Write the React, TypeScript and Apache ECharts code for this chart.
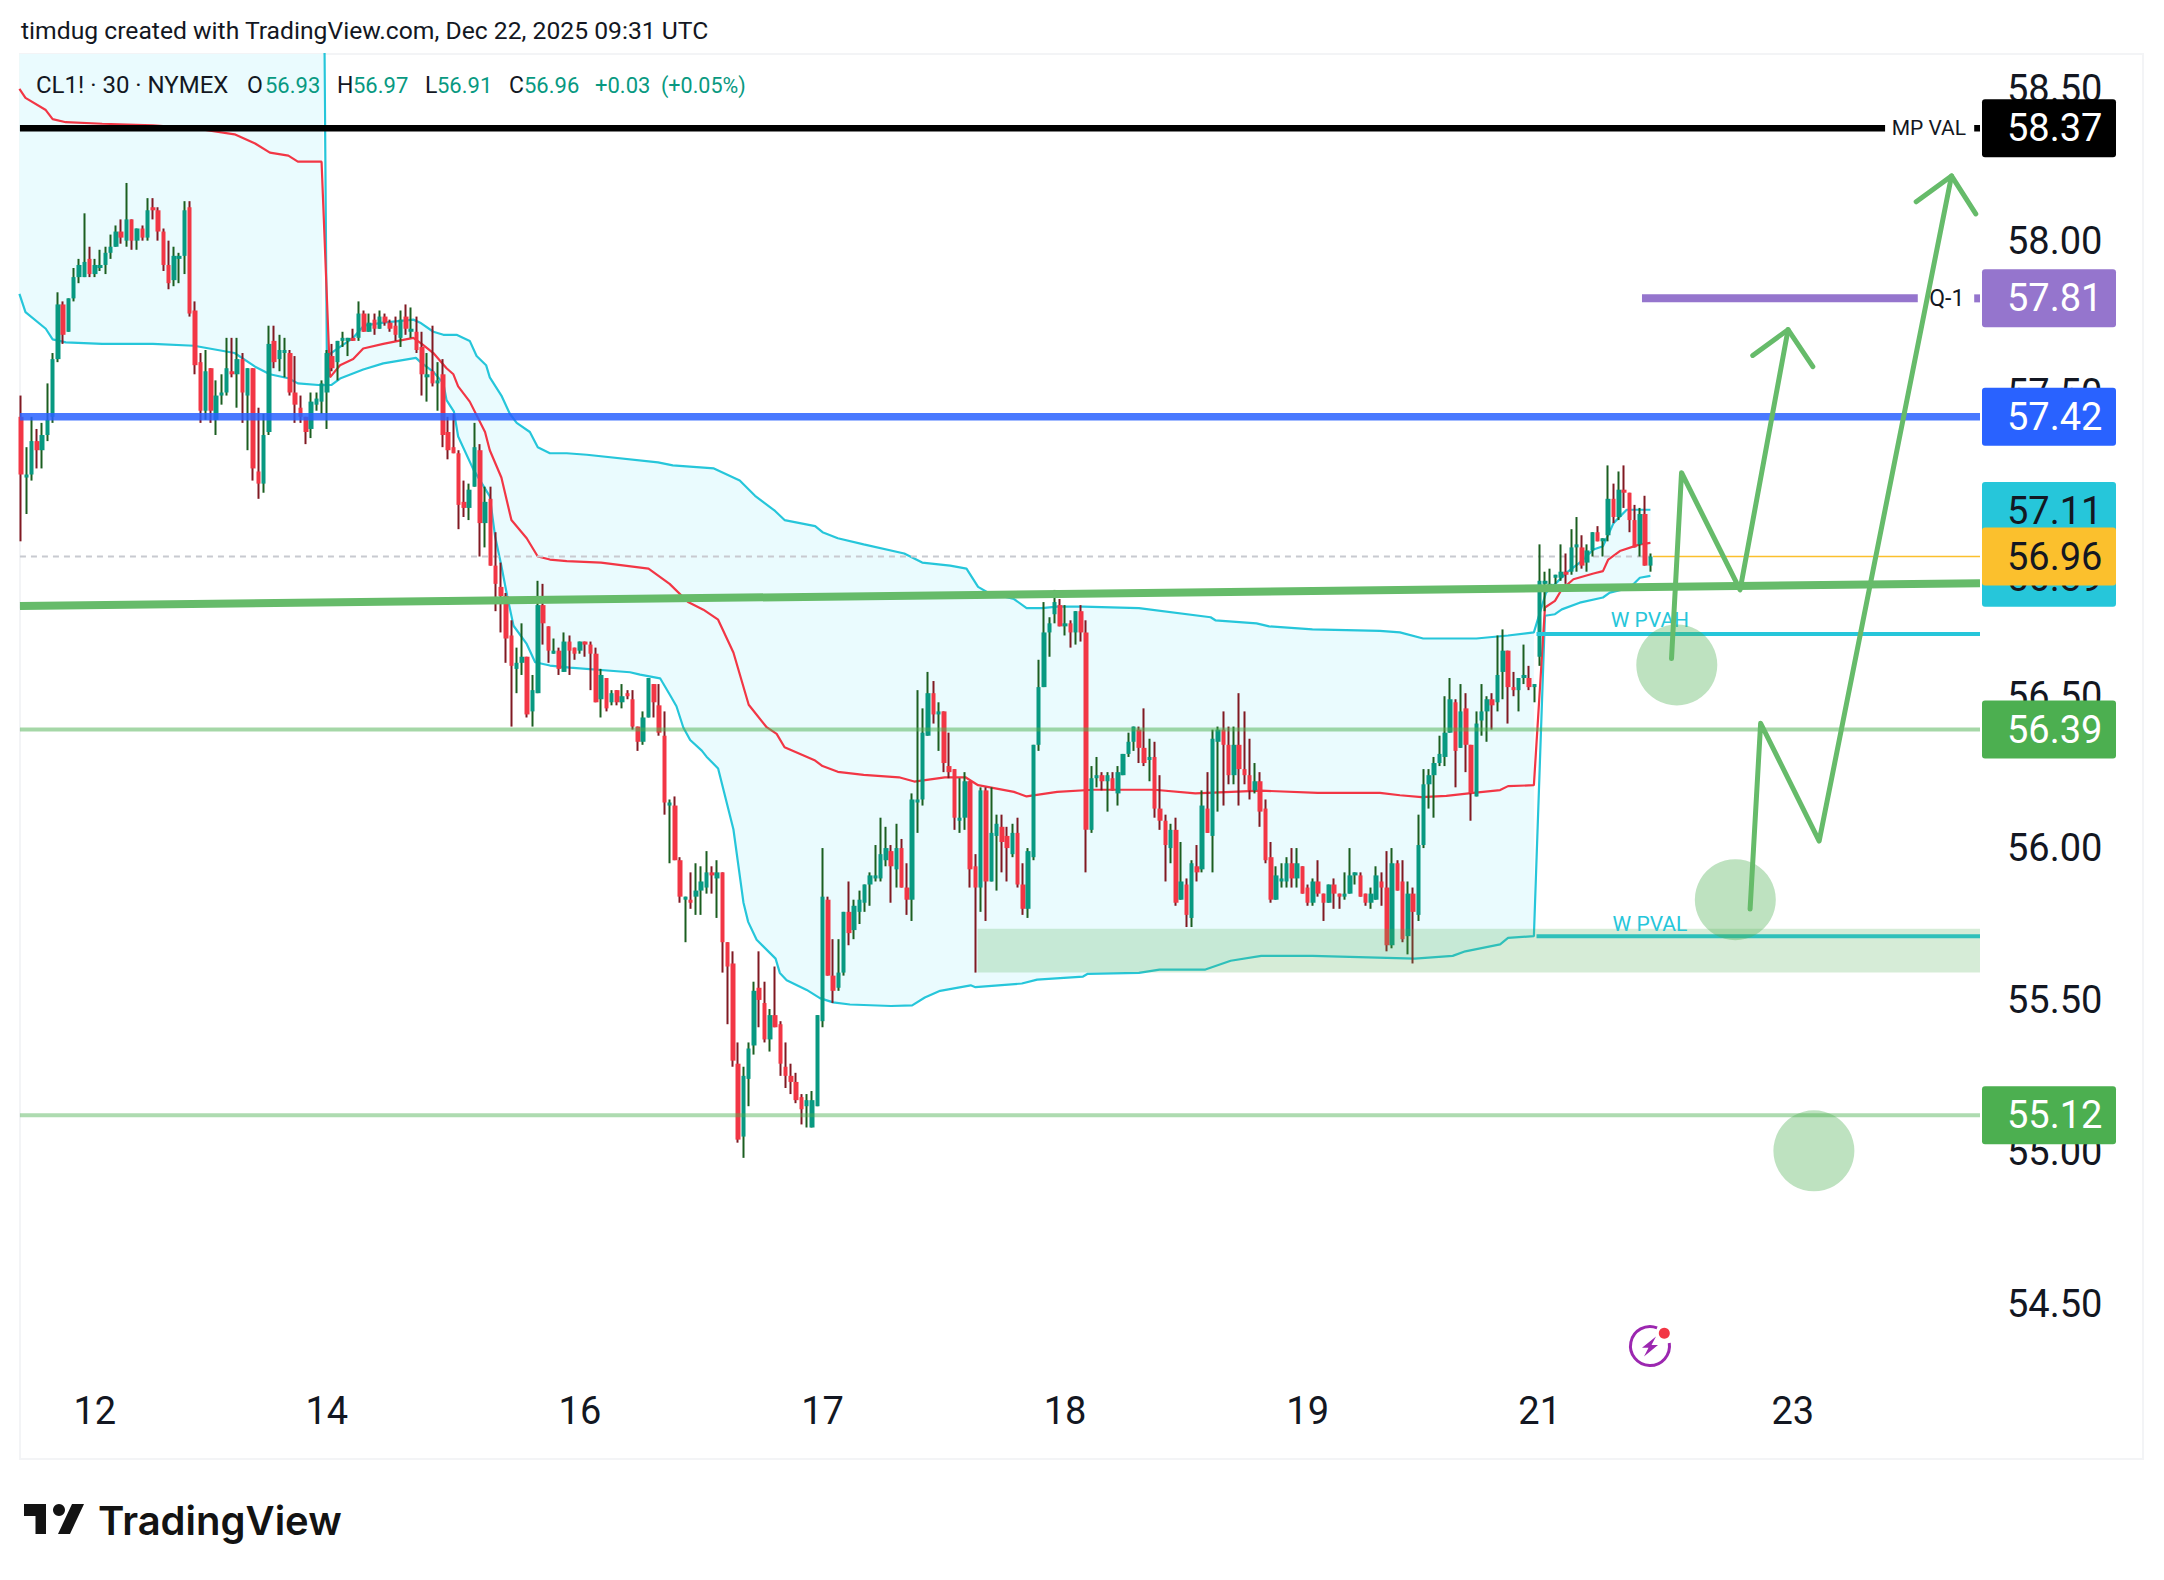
import React, { useEffect, useRef } from "react";
import * as echarts from "echarts";

// Candle rows: [open, close, low, high]
const candlesA = [
[57.42,57.23,57.01,57.49],[57.22,57.23,57.10,57.32],[57.23,57.34,57.21,57.42],[57.34,57.31,57.25,57.38],[57.31,57.36,57.25,57.40],[57.36,57.41,57.34,57.53],[57.42,57.61,57.40,57.63],[57.61,57.79,57.60,57.83],[57.79,57.69,57.66,57.80],[57.70,57.81,57.70,57.81],
[57.81,57.88,57.80,57.91],[57.88,57.92,57.86,57.94],[57.88,57.93,57.88,58.09],[57.94,57.89,57.88,57.98],[57.89,57.92,57.88,57.94],[57.91,57.92,57.90,57.97],[57.92,57.96,57.89,57.98],[57.96,57.98,57.94,58.02],[57.98,58.03,57.98,58.05],[58.03,58.01,57.99,58.07],
[58.00,58.07,57.98,58.19],[58.07,58.00,57.97,58.07],[58.00,58.04,57.97,58.04],[58.04,58.01,58.00,58.05],[58.01,58.10,58.00,58.14],[58.11,58.10,58.07,58.14],[58.10,58.03,58.00,58.11],[58.03,57.92,57.90,58.04],[57.92,57.86,57.84,58.00],[57.87,57.95,57.85,57.98],
[57.94,57.95,57.86,57.96],[57.95,58.10,57.89,58.13],[58.11,57.76,57.75,58.13],[57.77,57.59,57.56,57.80],[57.60,57.44,57.40,57.63],[57.44,57.57,57.41,57.64],[57.58,57.44,57.40,57.58],[57.41,57.49,57.36,57.54],[57.49,57.50,57.46,57.56],[57.50,57.58,57.49,57.68],
[57.57,57.56,57.55,57.68],[57.56,57.61,57.45,57.68],[57.61,57.50,57.40,57.63],[57.49,57.58,57.31,57.58],[57.58,57.25,57.21,57.58],[57.24,57.20,57.15,57.45],[57.20,57.36,57.17,57.43],[57.37,57.66,57.36,57.72],[57.67,57.60,57.58,57.72],[57.61,57.64,57.57,57.69],
[57.63,57.64,57.55,57.68],[57.63,57.50,57.49,57.64],[57.50,57.46,57.40,57.62],[57.45,57.42,57.40,57.49],[57.42,57.37,57.33,57.42],
];
const candlesB = [
[57.38,57.47,57.35,57.50],[57.46,57.48,57.44,57.50],[57.47,57.53,57.43,57.54],[57.50,57.63,57.38,57.64],[57.62,57.58,57.57,57.66],[57.60,57.67,57.54,57.67],[57.67,57.68,57.65,57.70],[57.67,57.68,57.62,57.68],[57.68,57.67,57.67,57.71],[57.68,57.76,57.67,57.80],
[57.76,57.70,57.70,57.77],[57.70,57.73,57.70,57.76],[57.74,57.71,57.69,57.76],[57.71,57.75,57.71,57.77],[57.75,57.73,57.72,57.76],[57.73,57.71,57.70,57.74],[57.72,57.69,57.67,57.75],[57.68,57.74,57.65,57.77],[57.75,57.71,57.69,57.79],[57.70,57.71,57.68,57.78],
[57.70,57.64,57.63,57.75],[57.65,57.56,57.49,57.70],[57.55,57.56,57.47,57.63],[57.57,57.53,57.52,57.72],[57.53,57.54,57.44,57.60],[57.56,57.36,57.32,57.61],[57.37,57.31,57.28,57.42],[57.32,57.30,57.30,57.43],[57.30,57.13,57.05,57.31],[57.14,57.12,57.09,57.21],
[57.12,57.18,57.08,57.20],[57.19,57.32,57.19,57.40],[57.31,57.07,56.96,57.33],[57.07,57.14,56.99,57.19],[57.15,56.93,56.93,57.19],[56.93,56.87,56.78,57.04],[56.86,56.83,56.71,56.94],[56.83,56.69,56.61,56.84],[56.70,56.60,56.40,56.75],[56.59,56.61,56.51,56.66],
[56.61,56.63,56.57,56.74],[56.63,56.44,56.43,56.63],[56.45,56.52,56.40,56.57],[56.51,56.80,56.51,56.88],[56.80,56.74,56.67,56.87],[56.73,56.65,56.61,56.73],[56.64,56.65,56.64,56.69],[56.65,56.59,56.57,56.66],[56.58,56.68,56.58,56.71],[56.68,56.65,56.57,56.70],
[56.66,56.64,56.62,56.66],
];
const candlesC = [
[56.65,56.68,56.64,56.68],[56.68,56.67,56.63,56.68],[56.67,56.64,56.52,56.68],[56.64,56.48,56.48,56.66],[56.49,56.57,56.43,56.59],[56.56,56.46,56.45,56.56],[56.48,56.51,56.47,56.52],[56.52,56.48,56.47,56.52],[56.48,56.50,56.46,56.54],[56.51,56.50,56.49,56.52],
[56.49,56.40,56.39,56.52],[56.40,56.35,56.32,56.40],[56.35,56.43,56.34,56.45],[56.43,56.56,56.43,56.56],[56.54,56.48,56.43,56.54],[56.47,56.38,56.37,56.54],[56.37,56.15,56.11,56.45],[56.14,56.15,55.95,56.16],[56.14,55.96,55.96,56.17],[55.96,55.84,55.82,55.97],
[55.83,55.84,55.69,55.84],[55.83,55.82,55.80,55.92],[55.84,55.86,55.78,55.95],[55.86,55.89,55.78,55.94],[55.87,55.92,55.85,55.99],[55.92,55.91,55.85,55.94],[55.90,55.92,55.77,55.96],[55.92,55.69,55.59,55.92],[55.69,55.61,55.42,55.69],[55.62,55.30,55.28,55.66],
[55.29,55.04,55.03,55.36],[55.05,55.25,54.98,55.28],[55.24,55.34,55.15,55.36],[55.35,55.53,55.32,55.56],[55.54,55.50,55.41,55.66],[55.49,55.37,55.36,55.56],[55.37,55.45,55.33,55.47],[55.45,55.41,55.41,55.61],[55.42,55.29,55.25,55.43],[55.28,55.25,55.21,55.36],
[55.25,55.23,55.19,55.29],[55.23,55.17,55.16,55.26],[55.18,55.14,55.09,55.19],[55.15,55.17,55.08,55.19],[55.08,55.17,55.08,55.20],[55.15,55.45,55.15,55.45],[55.43,55.84,55.41,56.00],[55.83,55.58,55.58,55.84],[55.58,55.53,55.49,55.70],[55.54,55.59,55.53,55.70],
[55.59,55.79,55.58,55.79],[55.79,55.72,55.68,55.89],
];
const candlesD = [
[55.73,55.81,55.70,55.83],[55.79,55.83,55.75,55.86],[55.82,55.88,55.79,55.88],[55.88,55.91,55.81,55.92],[55.90,55.91,55.89,56.01],[55.90,55.98,55.89,56.10],[55.96,56.00,55.94,56.07],[55.99,55.94,55.82,56.01],[55.93,56.00,55.87,56.08],[56.00,55.87,55.87,56.03],
[55.87,55.83,55.78,55.95],[55.83,56.16,55.76,56.18],[56.15,56.16,56.05,56.52],[56.16,56.38,56.14,56.46],[56.37,56.51,56.37,56.58],[56.51,56.44,56.41,56.55],[56.44,56.45,56.32,56.48],[56.45,56.28,56.25,56.45],[56.27,56.25,56.23,56.38],[56.26,56.10,56.06,56.26],
[56.09,56.10,56.05,56.23],[56.10,56.22,56.06,56.25],[56.22,55.93,55.87,56.22],[55.94,55.87,55.59,55.98],[55.87,56.19,55.79,56.20],[56.19,55.89,55.76,56.20],[55.89,56.05,55.89,56.20],[56.04,56.08,55.86,56.11],[56.07,56.02,55.92,56.11],[56.04,56.00,55.89,56.07],
[55.98,56.05,55.97,56.08],[56.05,55.88,55.87,56.10],[55.88,55.80,55.78,55.95],[55.80,55.99,55.77,56.00],[55.97,56.34,55.96,56.34],[56.34,56.53,56.32,56.62],[56.53,56.71,56.53,56.81],[56.71,56.74,56.63,56.76],[56.77,56.81,56.74,56.85],[56.80,56.73,56.73,56.82],
[56.73,56.74,56.70,56.80],[56.74,56.71,56.66,56.75],[56.71,56.78,56.67,56.78],[56.78,56.71,56.68,56.80],[56.71,56.06,55.92,56.75],[56.06,56.23,56.05,56.27],[56.23,56.24,56.20,56.30],[56.24,56.22,56.19,56.25],[56.22,56.24,56.12,56.25],[56.23,56.19,56.19,56.25],
[56.18,56.25,56.14,56.27],
];
const candlesE = [
[56.24,56.31,56.24,56.31],[56.31,56.35,56.30,56.38],[56.35,56.40,56.32,56.40],[56.39,56.33,56.28,56.40],[56.33,56.28,56.27,56.46],[56.29,56.30,56.22,56.36],[56.30,56.13,56.10,56.35],[56.13,56.09,56.06,56.24],[56.09,56.01,55.89,56.11],[56.00,56.06,55.95,56.08],
[56.06,55.82,55.81,56.10],[55.83,55.89,55.83,56.02],[55.88,55.78,55.74,55.90],[55.77,55.95,55.74,55.96],[55.94,55.92,55.89,56.01],[55.93,56.14,55.92,56.19],[56.13,56.05,56.05,56.25],[56.04,56.36,55.92,56.39],[56.35,56.39,56.12,56.40],[56.39,56.34,56.14,56.45],
[56.34,56.24,56.21,56.40],[56.24,56.34,56.21,56.40],[56.34,56.26,56.14,56.51],[56.26,56.24,56.21,56.45],[56.24,56.19,56.16,56.36],[56.19,56.22,56.18,56.28],[56.22,56.12,56.07,56.25],[56.13,55.96,55.95,56.16],[55.97,55.83,55.82,56.02],[55.83,55.91,55.83,55.94],
[55.89,55.90,55.87,55.95],[55.89,55.95,55.87,55.97],[55.95,55.90,55.87,56.00],[55.90,55.95,55.87,56.00],[55.94,55.85,55.85,55.94],[55.87,55.82,55.81,55.88],[55.82,55.89,55.81,55.90],[55.89,55.85,55.84,55.96],[55.85,55.82,55.76,55.85],[55.82,55.88,55.82,55.88],
[55.88,55.85,55.80,55.90],[55.85,55.84,55.80,55.85],[55.84,55.85,55.83,55.92],[55.85,55.91,55.85,56.00],[55.91,55.92,55.88,55.92],[55.91,55.84,55.84,55.92],[55.85,55.82,55.81,55.85],[55.82,55.85,55.80,55.87],[55.83,55.91,55.83,55.94],[55.89,55.87,55.81,55.92],
[55.87,55.68,55.66,55.99],
];
const candlesF = [
[55.68,55.95,55.67,56.00],[55.95,55.86,55.86,55.96],[55.89,55.70,55.69,55.96],[55.71,55.85,55.65,55.89],[55.85,55.79,55.62,55.87],[55.78,56.01,55.76,56.11],[56.01,56.21,56.00,56.26],[56.21,56.24,56.13,56.26],[56.24,56.28,56.10,56.30],[56.28,56.31,56.27,56.37],
[56.30,56.38,56.27,56.50],[56.38,56.49,56.38,56.56],[56.48,56.32,56.20,56.49],[56.33,56.45,56.33,56.54],[56.46,56.34,56.25,56.51],[56.34,56.18,56.09,56.34],[56.17,56.41,56.17,56.45],[56.42,56.45,56.37,56.54],[56.45,56.49,56.35,56.50],[56.49,56.47,56.39,56.51],
[56.48,56.57,56.45,56.70],[56.58,56.65,56.49,56.72],[56.65,56.53,56.41,56.65],[56.53,56.52,56.50,56.58],[56.52,56.56,56.45,56.56],[56.56,56.57,56.54,56.67],[56.56,56.53,56.52,56.60],[56.53,56.54,56.48,56.54],[56.63,56.88,56.60,57.00],[56.87,56.88,56.78,56.91],
[56.86,56.87,56.86,56.92],[56.89,56.90,56.87,56.90],[56.89,56.91,56.88,57.00],[56.91,56.90,56.87,56.97],[56.91,56.99,56.90,57.05],[56.99,57.00,56.91,57.09],[56.99,56.93,56.92,57.03],[56.94,56.98,56.91,57.00],[56.98,57.04,56.96,57.04],[57.04,57.01,57.01,57.06],
[57.01,57.02,56.96,57.02],[57.03,57.15,57.01,57.26],[57.15,57.09,57.07,57.20],[57.09,57.18,57.08,57.24],[57.18,57.17,57.12,57.26],[57.17,57.08,57.04,57.17],[57.08,56.99,56.99,57.13],[57.00,57.10,56.96,57.12],[57.10,56.93,56.93,57.16],[56.93,56.96,56.91,56.97],
];

// Anchored VWAP bands, read as [bar, price]
const upperA = [[-0.3,59],[57.4,59]];
const midA = [[-0.3,58.5],[0.85,58.47],[4.7,58.43],[6,58.40],[8.5,58.39],[15.4,58.385],[25,58.38],[32.8,58.37],[40.5,58.35],[44.4,58.32],[47.2,58.29],[50.7,58.28],[52.5,58.26],[57,58.26]];
const lowerA = [[-0.3,57.825],[0.85,57.765],[4.7,57.71],[6,57.675],[8.5,57.665],[15.4,57.66],[25,57.66],[32.8,57.654],[40.5,57.63],[44.4,57.585],[47.2,57.56],[50.7,57.547],[52.5,57.53],[57,57.524]];
const upperB = [[58,57.62],[60.5,57.65],[63,57.68],[65,57.72],[68.7,57.73],[74.4,57.74],[75.7,57.73],[78.2,57.70],[80.1,57.69],[82.6,57.69],[85.1,57.67],[86.4,57.62],[88.2,57.59],[88.9,57.55],[91.1,57.49],[92.7,57.43],[94,57.40],[96.5,57.37],[98,57.32],[100.3,57.30],[103.5,57.30],[107.3,57.295],[120.8,57.27],[123.6,57.26],[131.4,57.25],[136.3,57.21],[139.2,57.16],[143,57.11],[144.8,57.08],[150.6,57.06],[152,57.04],[154.9,57.02],[159.8,57.00],[167.5,56.97],[170.9,56.94],[176.2,56.93],[179.3,56.92],[181.5,56.86],[183.5,56.84],[188.3,56.82],[190.7,56.79],[193.6,56.79],[196.5,56.795],[201.4,56.795],[212,56.79],[225.6,56.76],[226.5,56.75],[234.3,56.74],[236.7,56.73],[244.9,56.72],[257.7,56.715],[261.5,56.71],[265.9,56.69],[276,56.69],[282,56.70],[286.9,56.71]];
const midB = [[58.6,57.55],[60.5,57.59],[63,57.61],[64.9,57.645],[68.7,57.66],[74.4,57.68],[76,57.66],[78.2,57.63],[80.7,57.58],[82,57.56],[82.9,57.52],[85.1,57.47],[88,57.37],[88.9,57.31],[91.1,57.22],[93,57.08],[95.9,57.02],[98,56.96],[100.3,56.95],[103.5,56.945],[110,56.94],[119,56.92],[123,56.87],[126.5,56.81],[129.4,56.785],[132.2,56.752],[135.1,56.644],[138,56.472],[141.4,56.398],[143.3,56.376],[144.8,56.332],[150.6,56.288],[152,56.27],[154.9,56.251],[159.8,56.241],[166.5,56.233],[169.4,56.219],[175.2,56.233],[179.1,56.233],[181.5,56.207],[188.3,56.185],[190.7,56.17],[196.5,56.185],[203.3,56.192],[214.9,56.192],[222.7,56.18],[235.2,56.189],[245.9,56.182],[257.7,56.182],[261.5,56.174],[265.6,56.168],[270.3,56.172],[275.4,56.182],[280.5,56.191],[282,56.204],[286.9,56.207]];
const lowerB = [[58.9,57.525],[60.5,57.546],[64.9,57.576],[68.7,57.596],[74.9,57.614],[75.7,57.601],[78.2,57.568],[80.1,57.53],[80.7,57.475],[82.1,57.437],[82.9,57.355],[85.8,57.246],[88.9,57.158],[89.9,57.027],[91.1,56.929],[92.2,56.83],[93.4,56.732],[95.9,56.672],[97.5,56.612],[100.3,56.601],[104.1,56.594],[115.5,56.579],[117.4,56.571],[121.2,56.559],[123.1,56.503],[124.3,56.467],[125.6,56.397],[126.9,56.356],[129.1,56.321],[130,56.301],[132.2,56.262],[135.1,56.062],[137,55.821],[137.9,55.757],[139.5,55.698],[143.1,55.636],[143.9,55.589],[145.2,55.565],[149,55.533],[151.5,55.506],[154,55.492],[157.2,55.485],[165,55.48],[169,55.482],[171.4,55.508],[174.3,55.53],[180.1,55.548],[181,55.542],[189.8,55.554],[192.7,55.567],[201.4,55.577],[202.3,55.586],[212,55.589],[215.9,55.6],[224.6,55.6],[229.4,55.629],[235.2,55.645],[244.9,55.645],[264.3,55.636],[271.5,55.645],[273.9,55.66],[280.5,55.683],[282,55.704],[286.9,55.71]];
const upperC = [[289.2,56.841],[291.2,56.874],[293.1,56.907],[295.6,56.94],[298.2,56.983],[300,56.994],[302,57.07],[304.5,57.114],[309,57.114]];
const midC = [[289,56.792],[290.9,56.814],[292.2,56.852],[294.4,56.885],[298.2,56.904],[300,56.912],[301,56.95],[303.2,56.978],[307,57.0],[309,57.005]];
const lowerC = [[289,56.765],[290.9,56.77],[292.2,56.786],[295.6,56.808],[300,56.825],[301.3,56.841],[305.1,56.857],[307,56.89],[309,56.896]];

// Price levels
const priceTicks = [54.5, 55, 55.5, 56, 56.5, 57, 57.5, 58, 58.5];
const tagPrices = [57.11, 56.89, 58.37, 57.81, 57.42, 56.96, 56.39, 55.12];
const tagColors = ["#26C6DA", "#26C6DA", "#000000", "#9575CD", "#2962FF", "#FBC02D", "#4CAF50", "#4CAF50"];
const tagTexts = ["#131722", "#131722", "#FFFFFF", "#FFFFFF", "#FFFFFF", "#131722", "#FFFFFF", "#FFFFFF"];
const dayLabels: Record<number, string> = { 14: "12", 58: "14", 106: "16", 152: "17", 198: "18", 244: "19", 288: "21", 336: "23" };
const legendParts = [["CL1! · 30 · NYMEX", 36, 0, 24], ["O", 247, 0, 23], ["56.93", 265, 1, 22], ["H", 337, 0, 23], ["56.97", 353, 1, 22], ["L", 425, 0, 23], ["56.91", 437, 1, 22], ["C", 509, 0, 23], ["56.96", 524, 1, 22], ["+0.03", 595, 1, 22], ["(+0.05%)", 661, 1, 21.5]];

// Hand-drawn lines, as [bar, price]
const trendLine = [[-0.2, 56.797], [371.5, 56.872]];
const arrowOne = [[313, 56.624], [314.9, 57.236], [326, 56.85], [335.1, 57.707]];
const arrowOneHead = [[328.4, 57.622], [335.1, 57.707], [339.8, 57.585]];
const arrowTwo = [[327.9, 55.799], [329.9, 56.411], [341, 56.023], [366.1, 58.213]];
const arrowTwoHead = [[359.4, 58.128], [366.1, 58.213], [370.7, 58.088]];
const circles = [[314, 56.603], [325.1, 55.83], [340, 55.003]];
const zoneBox = [181.4, 371.5, 55.734, 55.59];
const annotations = [["MP VAL", 361.8, 58.37, "#131722", 21], ["Q-1", 365.2, 57.81, "#131722", 23], ["W PVAH", 308.9, 56.751, "#26C6DA", 21], ["W PVAL", 308.9, 55.751, "#26C6DA", 21]];

const BAR_COUNT = 372;
const candles = [...candlesA, ...candlesB, ...candlesC, ...candlesD, ...candlesE, ...candlesF];
const categories = Array.from({ length: BAR_COUNT }, (_, i) => dayLabels[i] ?? String(i));

const GRID = { left: 18.36, right: 184, top: 54, bottom: 205 };
const FONT = "Roboto, sans-serif";

function lineSeries(data: number[][], color: string, width: number, z: number, extra: any = {}) {
  return {
    type: "line", xAxisIndex: 1, yAxisIndex: 0, data, symbol: "none", silent: true, z, animation: false,
    lineStyle: { color, width, ...(extra.lineStyle || {}) },
  };
}

function bandFill(upper: number[][], lower: number[][]) {
  return {
    type: "custom", xAxisIndex: 1, yAxisIndex: 0, clip: true, silent: true, z: 1, data: [[0, 0]],
    renderItem: (_: any, api: any) => ({
      type: "polygon",
      shape: { points: [...upper, ...[...lower].reverse()].map((p) => api.coord(p)) },
      style: { fill: "#EAFBFE" },
    }),
  };
}

function buildOption(): any {
  const roundCap = { lineStyle: { cap: "round", join: "round" } };
  return {
    animation: false,
    backgroundColor: "#ffffff",
    grid: { ...GRID },
    xAxis: [
      {
        type: "category", data: categories, boundaryGap: true,
        axisLine: { show: false }, axisTick: { show: false }, splitLine: { show: false },
        axisLabel: {
          interval: (i: number) => dayLabels[i] !== undefined, margin: 17,
          color: "#131722", fontFamily: FONT, fontSize: 38,
        },
      },
      { type: "value", show: false, min: -0.5, max: BAR_COUNT - 0.5, splitLine: { show: false } },
    ],
    yAxis: [{
      type: "value", position: "right", min: 54.265, max: 58.6146,
      axisLine: { show: false }, axisTick: { show: false }, splitLine: { show: false },
      axisLabel: {
        customValues: priceTicks, margin: 27, color: "#131722", fontFamily: FONT, fontSize: 38,
        formatter: (v: number) => v.toFixed(2),
      },
    }],
    series: [
      bandFill(upperA, lowerA), bandFill(upperB, lowerB), bandFill(upperC, lowerC),
      lineSeries([...upperA, ...upperB, ...upperC], "#26C6DA", 2.2, 2),
      lineSeries([...lowerA, ...lowerB, ...lowerC], "#26C6DA", 2.2, 2),
      lineSeries([...midA, ...midB, ...midC], "#F23645", 2.2, 2),
      lineSeries([[-0.2, 56.96], [309, 56.96]], "#C8CAD0", 2, 2, { lineStyle: { type: [6, 5] } }),
      {
        type: "candlestick", xAxisIndex: 0, yAxisIndex: 0, z: 3, barWidth: 1, silent: true,
        data: candles,
        itemStyle: { color: "#1B5E20", color0: "#801922", borderColor: "#1B5E20", borderColor0: "#801922", borderWidth: 2 },
      },
      {
        type: "candlestick", xAxisIndex: 0, yAxisIndex: 0, z: 4, barWidth: 5, silent: true,
        data: candles.map(([o, c]) => [o, c, Math.min(o, c), Math.max(o, c)]),
        itemStyle: { color: "#089981", color0: "#F23645", borderColor: "#089981", borderColor0: "#F23645", borderWidth: 0 },
      },
      lineSeries([[309.5, 56.96], [371.5, 56.96]], "#FBC02D", 1.6, 5),
      lineSeries([[287.4, 56.705], [371.5, 56.705]], "#26C6DA", 4, 5),
      lineSeries([[287.4, 55.71], [371.5, 55.71]], "#26C6DA", 4, 5),
      lineSeries([[-0.2, 56.39], [371.5, 56.39]], "rgba(76,175,80,0.5)", 4, 6),
      lineSeries([[-0.2, 55.12], [371.5, 55.12]], "rgba(76,175,80,0.45)", 4, 6),
      {
        type: "custom", xAxisIndex: 1, yAxisIndex: 0, silent: true, z: 6, clip: true, data: [[0, 0]],
        renderItem: (_: any, api: any) => {
          const [a, b] = api.coord([zoneBox[0], zoneBox[2]]);
          const [c, d] = api.coord([zoneBox[1], zoneBox[3]]);
          return { type: "rect", shape: { x: a, y: b, width: c - a, height: d - b }, style: { fill: "rgba(76,175,80,0.23)" } };
        },
      },
      lineSeries([[-0.2, 58.37], [353.5, 58.37]], "#000000", 6.5, 7),
      lineSeries([[370.4, 58.37], [371.5, 58.37]], "#000000", 6.5, 7),
      lineSeries([[307.4, 57.81], [359.7, 57.81]], "#9575CD", 8, 7),
      lineSeries([[370.4, 57.81], [371.5, 57.81]], "#9575CD", 8, 7),
      lineSeries([[-0.2, 57.42], [371.5, 57.42]], "rgba(41,98,255,0.85)", 7.5, 7),
      lineSeries(trendLine, "#66BB6A", 8, 8),
      {
        type: "scatter", xAxisIndex: 1, yAxisIndex: 0, data: circles, symbol: "circle", symbolSize: 81,
        silent: true, z: 8, clip: false, itemStyle: { color: "rgba(76,175,80,0.45)" },
      },
      lineSeries(arrowOne, "#66BB6A", 5, 9, roundCap),
      lineSeries(arrowOneHead, "#66BB6A", 5, 9, roundCap),
      lineSeries(arrowTwo, "#66BB6A", 5, 9, roundCap),
      lineSeries(arrowTwoHead, "#66BB6A", 5, 9, roundCap),
      {
        type: "custom", xAxisIndex: 1, yAxisIndex: 0, silent: true, z: 7, clip: false,
        data: annotations.map((a) => [a[1], a[2]]),
        renderItem: (params: any, api: any) => {
          const [x, y] = api.coord([api.value(0), api.value(1)]);
          const a = annotations[params.dataIndex];
          return {
            type: "text", x, y, silent: true,
            style: { text: a[0], fill: a[3], font: `${a[4]}px ${FONT}`, textAlign: "center", textVerticalAlign: "middle" },
          };
        },
      },
      {
        type: "custom", xAxisIndex: 1, yAxisIndex: 0, silent: true, z: 10, clip: false,
        data: tagPrices.map((p) => [371, p]),
        renderItem: (params: any, api: any) => {
          const [, y] = api.coord([api.value(0), api.value(1)]);
          const i = params.dataIndex;
          return {
            type: "group", silent: true, children: [
              { type: "rect", shape: { x: 1982, y: y - 29, width: 134, height: 58, r: 3 }, style: { fill: tagColors[i] } },
              { type: "text", style: { x: 2007, y, text: tagPrices[i].toFixed(2), fill: tagTexts[i], font: `38px ${FONT}`, textAlign: "left", textVerticalAlign: "middle" } },
            ],
          };
        },
      },
    ],
    graphic: { elements: [
      { type: "rect", z: 0, silent: true, shape: { x: 20, y: 54, width: 2123, height: 1405 }, style: { fill: "none", stroke: "#F3F4F6", lineWidth: 2 } },
      { type: "text", z: 20, x: 21, y: 30, style: { text: "timdug created with TradingView.com, Dec 22, 2025 09:31 UTC", fill: "#131722", font: `24.7px ${FONT}`, textVerticalAlign: "middle" } },
      ...legendParts.map(([text, x, green, size]) => ({
        type: "text", z: 20, x, y: 85,
        style: { text, fill: green ? "#089981" : "#131722", font: `${size}px ${FONT}`, textVerticalAlign: "middle" },
      })),
      { type: "polygon", z: 20, shape: { points: [[24, 1504], [46, 1504], [46, 1534], [35.5, 1534], [35.5, 1516], [24, 1516]] }, style: { fill: "#131313" } },
      { type: "circle", z: 20, shape: { cx: 59, cy: 1510, r: 6 }, style: { fill: "#131313" } },
      { type: "polygon", z: 20, shape: { points: [[72, 1504], [84, 1504], [70, 1534], [58, 1534]] }, style: { fill: "#131313" } },
      { type: "text", z: 20, x: 98, y: 1520, style: { text: "TradingView", fill: "#131313", font: `600 40px Inter, ${FONT}`, textVerticalAlign: "middle" } },
      { type: "arc", z: 20, shape: { cx: 1650, cy: 1346, r: 19.5, startAngle: -0.15, endAngle: -1.2, clockwise: true }, style: { fill: "none", stroke: "#9C27B0", lineWidth: 3 } },
      { type: "polygon", z: 20, shape: { points: [[1656, 1336.5], [1642, 1347.8], [1648.5, 1347.8], [1644, 1356.5], [1658, 1345], [1651.5, 1345]] }, style: { fill: "#9C27B0" } },
      { type: "circle", z: 21, shape: { cx: 1664.3, cy: 1333.3, r: 5.5 }, style: { fill: "#F23645" } },
    ] },
  };
}

export default function App() {
  const ref = useRef<HTMLDivElement>(null);
  useEffect(() => {
    document.body.style.margin = "0";
    document.body.style.background = "#ffffff";
    const chart = echarts.init(ref.current as HTMLDivElement, undefined, { renderer: "svg" });
    chart.setOption(buildOption());
    return () => chart.dispose();
  }, []);
  return <div ref={ref} style={{ width: 2164, height: 1580 }} />;
}
